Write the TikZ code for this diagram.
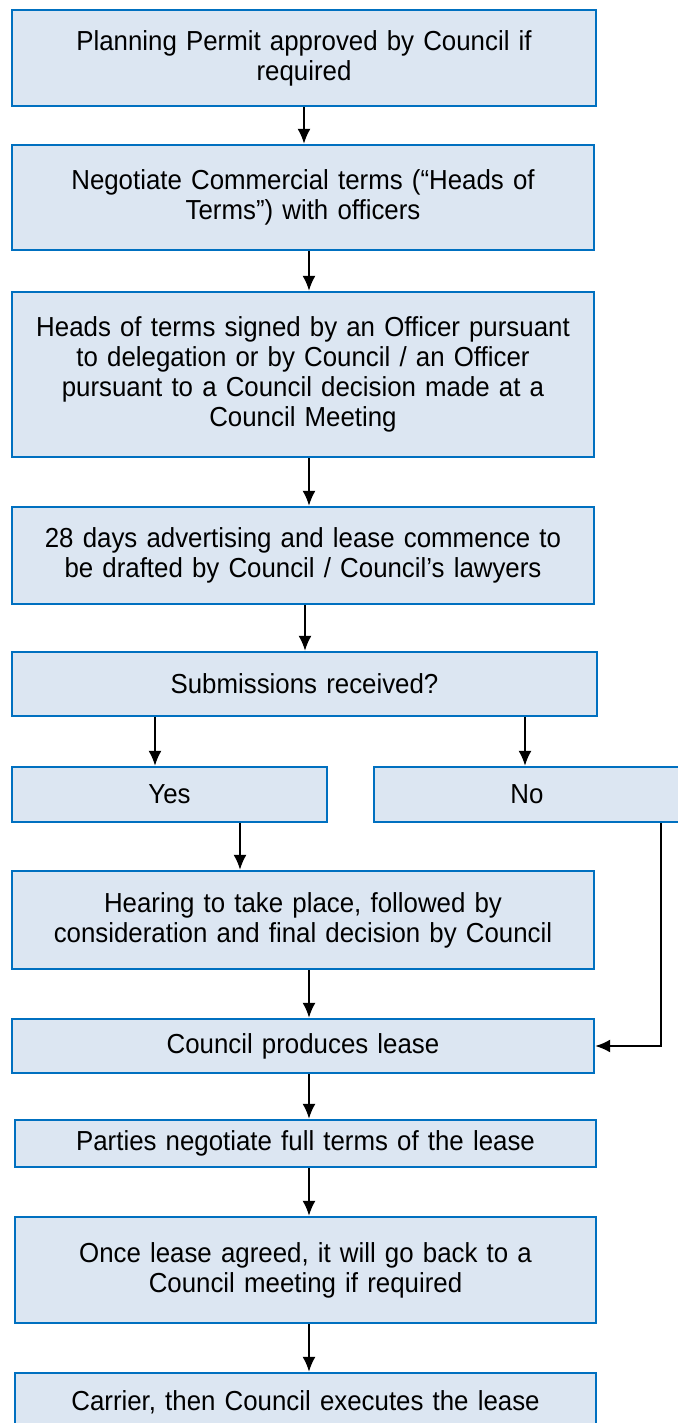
\documentclass[tikz,border=0pt]{standalone}
\usepackage{fontspec}
\setmainfont[FakeStretch=0.94]{Liberation Sans}
\definecolor{LeaseBlue}{RGB}{0, 112, 192}
\definecolor{LeaseFill}{RGB}{220, 230, 242}
\usetikzlibrary{arrows.meta, positioning, calc}

\begin{document}
\begin{tikzpicture}[
      x=1pt, y=-1pt,
      font=\fontsize{27.5}{30}\selectfont,
      >={Latex[length=15pt, width=13pt]},
      stepbox/.style={draw=LeaseBlue, line width=2.2pt, fill=LeaseFill,
        align=center, inner sep=0pt, text width=560pt},
      flow/.style={->, line width=2.2pt, black}
    ]
      \useasboundingbox (0,0) rectangle (677,1423);
      % main column of steps (pixel grid of the reference, y downwards)
      \node[stepbox, minimum width=584pt, minimum height=96pt] (permit) at (304, 58)
        {Planning Permit approved by Council if\\required};
      \node[stepbox, minimum width=582pt, minimum height=105pt] (terms) at (303, 197.5)
        {Negotiate Commercial terms (“Heads of\\Terms”) with officers};
      \node[stepbox, minimum width=582pt, minimum height=165pt] (signed) at (303, 374.5)
        {Heads of terms signed by an Officer pursuant\\to delegation or by Council / an Officer\\pursuant to a Council decision made at a\\Council Meeting};
      \node[stepbox, minimum width=582pt, minimum height=97pt] (advert) at (303, 555.5)
        {28 days advertising and lease commence to\\be drafted by Council / Council’s lawyers};
      \node[stepbox, minimum width=585pt, minimum height=64pt] (subm) at (304.5, 684)
        {Submissions received?};
      % the two answers
      \node[stepbox, text width=290pt, minimum width=315pt, minimum height=55pt] (yes) at (169.5, 794.5) {Yes};
      \node[stepbox, text width=290pt, minimum width=306pt, minimum height=55pt] (no) at (527, 794.5) {No};
      \node[stepbox, minimum width=582pt, minimum height=98pt] (hearing) at (303, 920)
        {Hearing to take place, followed by\\consideration and final decision by Council};
      \node[stepbox, minimum width=582pt, minimum height=54pt] (produce) at (303, 1046)
        {Council produces lease};
      \node[stepbox, minimum width=581pt, minimum height=47pt] (negot) at (305.5, 1143.5)
        {Parties negotiate full terms of the lease};
      \node[stepbox, minimum width=581pt, minimum height=106pt] (agreed) at (305.5, 1270)
        {Once lease agreed, it will go back to a\\Council meeting if required};
      \node[stepbox, minimum width=581pt, minimum height=58pt] (execute) at (305.5, 1402)
        {Carrier, then Council executes the lease};

      \draw[flow] (permit.south) -- ([xshift=1pt]terms.north);
      \draw[flow] ([xshift=6pt]terms.south) -- ([xshift=6pt]signed.north);
      \draw[flow] ([xshift=6pt]signed.south) -- ([xshift=6pt]advert.north);
      \draw[flow] ([xshift=2pt]advert.south) -- ([xshift=0.5pt]subm.north);
      \draw[flow] ([xshift=-149.5pt]subm.south) -- ([xshift=-14.5pt]yes.north);
      \draw[flow] ([xshift=220.5pt]subm.south) -- ([xshift=-2pt]no.north);
      \draw[flow] ([xshift=70.5pt]yes.south) -- ([xshift=-63pt]hearing.north);
      \draw[flow] ([xshift=134pt]no.south) |- (produce.east);
      \draw[flow] ([xshift=6pt]hearing.south) -- ([xshift=6pt]produce.north);
      \draw[flow] ([xshift=6pt]produce.south) -- ([xshift=3.5pt]negot.north);
      \draw[flow] ([xshift=3.5pt]negot.south) -- ([xshift=3.5pt]agreed.north);
      \draw[flow] ([xshift=3.5pt]agreed.south) -- ([xshift=3.5pt]execute.north);
    \end{tikzpicture}
\end{document}
